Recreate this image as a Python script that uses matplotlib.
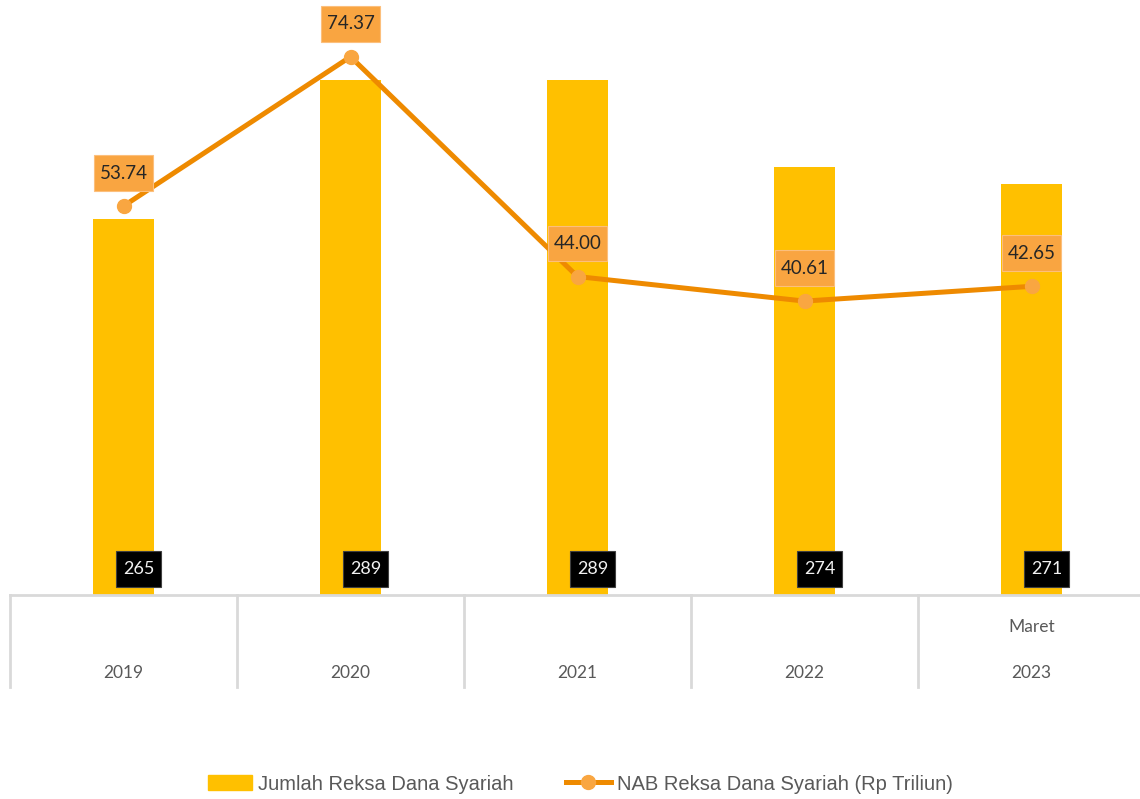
import matplotlib.pyplot as plt
from matplotlib.patches import Patch, Rectangle
from matplotlib.lines import Line2D
import matplotlib.transforms as mtransforms

# data
years = ["2019", "2020", "2021", "2022", "2023"]
sub_labels = ["", "", "", "", "Maret"]
jumlah = [265, 289, 289, 274, 271]
nab = [53.74, 74.37, 44.00, 40.61, 42.65]

bar_color = "#FFC000"
line_color = "#EE8A00"
marker_color = "#F9A641"
grid_grey = "#D9D9D9"
text_grey = "#595959"

fig = plt.figure(figsize=(11.4, 7.99), dpi=100)
ax = fig.add_axes([10 / 1140, 204 / 799, 1135 / 1140, 579 / 799])
ax2 = ax.twinx()

x = list(range(len(years)))
ax.bar(x, jumlah, width=0.27, color=bar_color, zorder=2)
ax.set_ylim(200, 300)
ax.set_xlim(-0.5, 4.5)

ax2.plot(x, nab, color=line_color, lw=3.6, marker="o", markersize=10,
         markerfacecolor=marker_color, markeredgecolor=marker_color, zorder=3)
ax2.set_ylim(0, 80)

for a in (ax, ax2):
    for s in a.spines.values():
        s.set_visible(False)
    a.set_xticks([])
    a.set_yticks([])

# bottom line + category separators
trans = mtransforms.blended_transform_factory(ax.transData, ax.transAxes)
ax.plot([-0.5, 4.5], [0, 0], transform=trans, color=grid_grey, lw=2, clip_on=False, zorder=4)
for b in [-0.5, 0.5, 1.5, 2.5, 3.5, 4.5]:
    ax.plot([b, b], [0, -92 / 579], transform=trans, color=grid_grey, lw=2, clip_on=False)

for i, (yr, sub) in enumerate(zip(years, sub_labels)):
    ax.text(i, -78 / 579, yr, transform=trans, ha="center", va="center",
            fontsize=12.5, color=text_grey, family="Lato")
    if sub:
        ax.text(i, -32 / 579, sub, transform=trans, ha="center", va="center",
                fontsize=12.5, color=text_grey, family="Lato")


def label_box(axis, xv, yv, dx, dy, w, h, fc, ec, z):
    # box sized in points, centred at an offset from a data point
    tr = mtransforms.Affine2D().scale(fig.dpi / 72) + \
        mtransforms.ScaledTranslation(xv, yv, axis.transData)
    axis.add_patch(Rectangle((dx - w / 2, dy - h / 2), w, h, transform=tr,
                             fc=fc, ec=ec, lw=0.8, clip_on=False, zorder=z))


# bar labels (inside base)
for i, v in enumerate(jumlah):
    label_box(ax, i, 200, 10.8, 18.7, 31.7, 25.9, "black", "#404040", 5)
    ax.annotate(str(v), xy=(i, 200), xytext=(10.8, 18.7), textcoords="offset points",
                ha="center", va="center", fontsize=13, color="#F2F2F2", family="Lato",
                zorder=6)

# line labels
for i, v in enumerate(nab):
    label_box(ax2, i, v, 0, 23.8, 41.8, 25.9, "#F9A541", "#FCBF7C", 6)
    ax2.annotate(f"{v:.2f}", xy=(i, v), xytext=(0, 23.8), textcoords="offset points",
                 ha="center", va="center", fontsize=13.5, color="#262626", family="Lato",
                 zorder=7)

handles = [
    Patch(facecolor=bar_color, edgecolor=bar_color, label="Jumlah Reksa Dana Syariah"),
    Line2D([0], [0], color=line_color, lw=3.6, marker="o", markersize=10,
           markerfacecolor=marker_color, markeredgecolor=marker_color,
           label="NAB Reksa Dana Syariah (Rp Triliun)"),
]
leg = fig.legend(handles=handles, loc="center", bbox_to_anchor=(0.509, 15 / 799), ncol=2,
                 frameon=False, handlelength=2.2, handletextpad=0.3, columnspacing=2.6,
                 prop={"family": "Liberation Sans", "size": 14.5})
for t in leg.get_texts():
    t.set_color(text_grey)

fig.savefig("out.png", dpi=100)
